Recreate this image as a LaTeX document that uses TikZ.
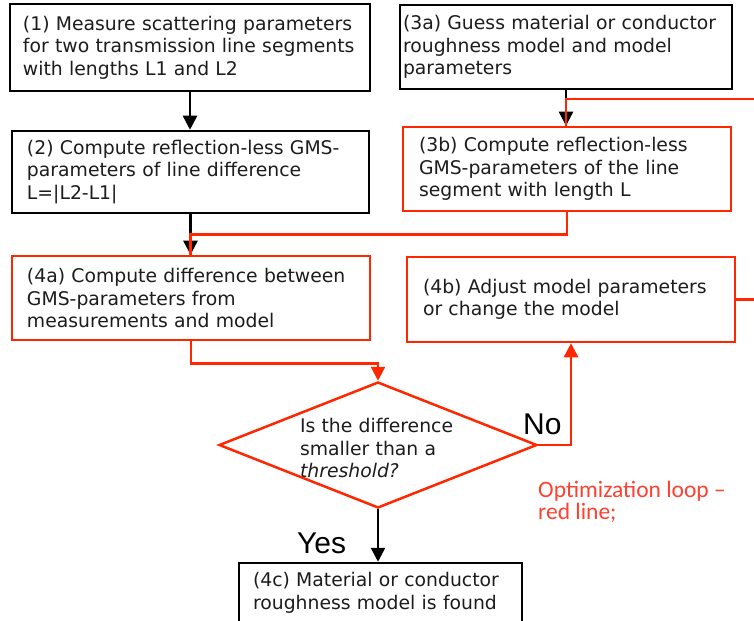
\documentclass[tikz,border=0pt]{standalone}
\usepackage{fontspec}
\setmainfont{DejaVu Sans}
\newfontfamily\yesnofont{Liberation Sans}
\newfontfamily\notefont{Carlito}
\usetikzlibrary{arrows.meta,shapes.geometric}

\tikzset{
	stepbox/.style={rectangle, draw=BLACK, line width=2.5bp, inner sep=0pt, align=left, text=INK,
		font=\fontsize{18.8bp}{22.5bp}\selectfont},
	loopbox/.style={stepbox, draw=RED},
	decision/.style={diamond, draw=RED, line width=2.5bp, inner sep=0pt,
		minimum width=318bp, minimum height=126bp},
	question/.style={inner sep=0pt, align=left, text width=160bp, text=INK,
		font=\fontsize{18.8bp}{22.5bp}\selectfont},
	answer/.style={inner sep=0pt, anchor=base west, font=\yesnofont\fontsize{30bp}{30bp}\selectfont, text=BLACK},
	flow/.style={BLACK, line width=2.5bp, -{Triangle[width=14bp,length=14bp]}},
	redline/.style={RED, line width=2.5bp},
	redflow/.style={redline, -{Triangle[width=14bp,length=14bp]}}
}

\begin{document}
\begin{tikzpicture}[x=1bp,y=-1bp]

\definecolor{BLACK}{RGB}{0,0,0}
\definecolor{INK}{RGB}{28,28,28}
\definecolor{RED}{RGB}{255,38,0}
\definecolor{NOTE}{RGB}{255,64,48}
\useasboundingbox (0,0) rectangle (754,621);
\clip (0,0) rectangle (754,621);

\node[stepbox, minimum width=360bp, minimum height=87bp, text width=334bp] (meas) at (190,47.5)
	{(1) Measure scattering parameters\\for two transmission line segments\\with lengths L1 and L2};
\node[stepbox, minimum width=357bp, minimum height=82bp, text width=327bp] (lined) at (190.5,172)
	{(2) Compute reflection-less GMS-\\parameters of line difference\\L=|L2-L1|};
\node[stepbox, minimum width=332bp, minimum height=84bp, text width=326bp] (guess) at (566,47)
	{(3a) Guess material or conductor\\roughness model and model\\parameters};
\node[loopbox, minimum width=328bp, minimum height=84bp, text width=296bp] (model) at (567,169)
	{(3b) Compute reflection-less\\GMS-parameters of the line\\segment with length L};
\node[loopbox, minimum width=358bp, minimum height=84bp, text width=328bp] (compare) at (191,298)
	{(4a) Compute difference between\\GMS-parameters from\\measurements and model};
\node[loopbox, minimum width=328bp, minimum height=85bp, text width=296bp] (adjust) at (571,299.5)
	{(4b) Adjust model parameters\\or change the model};
\node[decision] (test) at (378,445) {};
\node[question] (testq) at (380,448)
	{Is the difference\\smaller than a\\\textit{threshold?}};
\node[stepbox, minimum width=283bp, minimum height=60bp, text width=255bp] (found) at (380.5,593)
	{(4c) Material or conductor\\roughness model is found};

\node[answer] (no) at (523,434) {No};
\node[answer] (yes) at (297,553) {Yes};
\node[anchor=north west, inner sep=0pt, align=left, text=NOTE,
	font=\notefont\fontsize{23.5bp}{22bp}\selectfont] (optnote) at (538,481)
	{Optimization loop –\\red line;};

\coordinate (loopturn) at (770,99);

\draw[flow] (meas.south) -- (meas.south |- lined.north);
\draw[flow] (lined.south) -- (lined.south |- compare.north);
\draw[flow] (guess.south) -- (guess.south |- model.north);
\draw[flow] (test.south) -- (test.south |- found.north);

\draw[redline] (model.south) -- ++(0,22) -| (lined.south |- compare.north);
\draw[redflow] (compare.south) -- ++(0,22) -| (test.north);
\draw[redflow] (test.east) -| (adjust.south);
\draw[redline] (adjust.east) -| (loopturn) -| (guess.south |- model.north);

\end{tikzpicture}
\end{document}
